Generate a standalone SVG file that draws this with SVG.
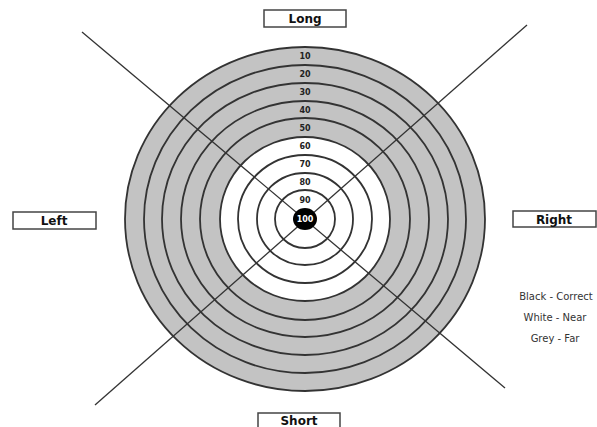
<svg xmlns="http://www.w3.org/2000/svg" width="597" height="427" viewBox="0 0 597 427">
<style>
.ring{fill:none;stroke:#333;stroke-width:1.8}
.axis{stroke:#333;stroke-width:1.3;fill:none}
.box{fill:#fff;stroke:#444;stroke-width:1.5}
.lbl{font-family:"DejaVu Sans",sans-serif;font-weight:bold;font-size:12px;fill:#111;text-anchor:middle}
.num{font-family:"DejaVu Sans",sans-serif;font-weight:bold;font-size:8px;fill:#222;text-anchor:middle}
.leg{font-family:"DejaVu Sans",sans-serif;font-size:10px;fill:#333;text-anchor:middle}
</style>
<rect width="597" height="427" fill="#fff"/>
<g id="target">
<ellipse cx="305" cy="219" rx="180" ry="172" fill="#c3c3c3"/>
<ellipse cx="305" cy="219" rx="85" ry="82" fill="#fff"/>
<ellipse class="ring" cx="305" cy="219" rx="180" ry="172"/>
<ellipse class="ring" cx="305" cy="219" rx="161" ry="154"/>
<ellipse class="ring" cx="305" cy="219" rx="143" ry="136"/>
<ellipse class="ring" cx="305" cy="219" rx="124" ry="118"/>
<ellipse class="ring" cx="305" cy="219" rx="105" ry="101"/>
<ellipse class="ring" cx="305" cy="219" rx="85" ry="82"/>
<ellipse class="ring" cx="305" cy="219" rx="67" ry="64"/>
<ellipse class="ring" cx="305" cy="219" rx="48" ry="46"/>
<ellipse class="ring" cx="305" cy="219" rx="30" ry="29"/>
</g>
<g id="connectors">
<line class="axis" x1="82" y1="32" x2="505" y2="388"/>
<line class="axis" x1="527" y1="25" x2="95" y2="405"/>
</g>
<g id="bull">
<ellipse cx="305" cy="219" rx="12" ry="11" fill="#000"/>
<text class="num" x="305" y="222" style="fill:#fff">100</text>
</g>
<g id="numbers">
<text class="num" x="305" y="59">10</text>
<text class="num" x="305" y="77">20</text>
<text class="num" x="305" y="95">30</text>
<text class="num" x="305" y="113">40</text>
<text class="num" x="305" y="131">50</text>
<text class="num" x="305" y="149">60</text>
<text class="num" x="305" y="167">70</text>
<text class="num" x="305" y="185">80</text>
<text class="num" x="305" y="203">90</text>
</g>
<g id="long"><rect class="box" x="264" y="10" width="82" height="17"/><text class="lbl" x="305" y="23">Long</text></g>
<g id="left"><rect class="box" x="13" y="212" width="83" height="17"/><text class="lbl" x="54" y="225">Left</text></g>
<g id="right"><rect class="box" x="513" y="211" width="83" height="16"/><text class="lbl" x="554" y="224">Right</text></g>
<g id="short"><rect class="box" x="258" y="413" width="82" height="17"/><text class="lbl" x="299" y="425">Short</text></g>
<g id="legend">
<text class="leg" x="556" y="300">Black - Correct</text>
<text class="leg" x="555" y="321">White - Near</text>
<text class="leg" x="555" y="342">Grey - Far</text>
</g>
</svg>
